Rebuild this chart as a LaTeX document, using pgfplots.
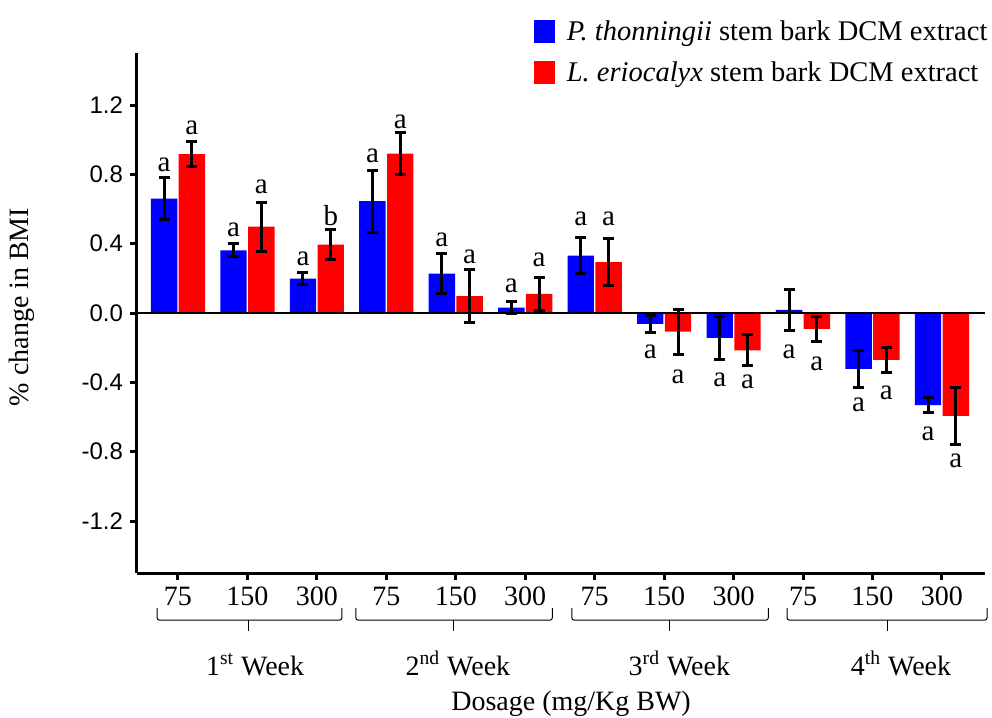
\documentclass[border=0pt]{standalone}
\usepackage{fontspec}
\setmainfont{Liberation Serif}
\newfontfamily\arialfont{Liberation Sans}
\usepackage{pgfplots}
\usepackage{pgfplotstable}
\pgfplotsset{compat=1.18}
\definecolor{myblue}{RGB}{0,0,255}
\definecolor{myred}{RGB}{255,0,0}

\pgfplotstableread{
x y e
0 0.660 0.120
1 0.362 0.037
2 0.198 0.034
3 0.645 0.180
4 0.227 0.115
5 0.031 0.036
6 0.331 0.105
7 -0.063 0.050
8 -0.144 0.123
9 0.018 0.120
10 -0.323 0.106
11 -0.531 0.043
}\bluedata

\pgfplotstableread{
x y e
0 0.917 0.073
1 0.498 0.142
2 0.395 0.089
3 0.920 0.123
4 0.098 0.152
5 0.110 0.096
6 0.293 0.137
7 -0.108 0.130
8 -0.215 0.090
9 -0.092 0.072
10 -0.271 0.070
11 -0.594 0.163
}\reddata

\begin{document}
\begin{tikzpicture}
\path[use as bounding box] (-68.5pt,-72.5pt) rectangle (427.5pt,286.5pt);
\begin{axis}[
  at={(0pt,0pt)}, anchor=south west,
  scale only axis, width=424pt, height=260pt,
  xmin=-0.59, xmax=11.62, ymin=-1.5, ymax=1.5,
  axis x line*=bottom, axis y line*=left,
  axis line style={line width=1.5pt, black},
  xtick={0,...,11},
  xticklabels={75,150,300,75,150,300,75,150,300,75,150,300},
  ytick={-1.2,-0.8,-0.4,0,0.4,0.8,1.2},
  yticklabels={-1.2,-0.8,-0.4,0.0,0.4,0.8,1.2},
  tick align=outside, major tick length=3.5pt,
  tick style={line width=1.5pt, black},
  xticklabel style={font=\fontsize{14}{16}\selectfont},
  yticklabel style={font=\arialfont\fontsize{12}{14}\selectfont},
  ybar, bar width=0.38,
  clip=false,
  legend style={at={(rel axis cs:0.468,1.07)}, anchor=north west, draw=none, fill=none,
    font=\fontsize{14.25}{16}\selectfont, row sep=5pt, column sep=4pt, inner sep=0pt, outer sep=0pt},
  legend cell align=left,
  legend image code/.code={\fill[#1] (0pt,-5.75pt) rectangle (10.5pt,5.75pt);},
]
\addplot[fill=myblue, draw=none, bar shift=-0.2,
  error bars/.cd, y dir=both, y explicit,
  error bar style={line width=1.5pt, draw=black},
  error mark options={draw=black, line width=1.5pt, mark size=2.75pt, rotate=90}]
  table[x=x, y=y, y error=e] {\bluedata};
\addlegendentry{\textit{P. thonningii} stem bark DCM extract}
\addplot[fill=myred, draw=none, bar shift=0.2,
  error bars/.cd, y dir=both, y explicit,
  error bar style={line width=1.5pt, draw=black},
  error mark options={draw=black, line width=1.5pt, mark size=2.75pt, rotate=90}]
  table[x=x, y=y, y error=e] {\reddata};
\addlegendentry{\textit{L. eriocalyx} stem bark DCM extract}

\draw[line width=1.2pt] (axis cs:-0.59,0) -- (axis cs:11.62,0);

% significance letters
\begin{scope}[every node/.style={font=\fontsize{14.5}{16}\selectfont, anchor=base, inner sep=0pt}]
\node at (axis cs:-0.2,0.814) {a};
\node at (axis cs:0.2,1.031) {a};
\node at (axis cs:0.8,0.439) {a};
\node at (axis cs:1.2,0.689) {a};
\node at (axis cs:1.8,0.275) {a};
\node at (axis cs:2.2,0.506) {b};
\node at (axis cs:2.8,0.871) {a};
\node at (axis cs:3.2,1.064) {a};
\node at (axis cs:3.8,0.381) {a};
\node at (axis cs:4.2,0.285) {a};
\node at (axis cs:4.8,0.121) {a};
\node at (axis cs:5.2,0.269) {a};
\node at (axis cs:5.8,0.506) {a};
\node at (axis cs:6.2,0.506) {a};
\node at (axis cs:6.8,-0.263) {a};
\node at (axis cs:7.2,-0.407) {a};
\node at (axis cs:7.8,-0.423) {a};
\node at (axis cs:8.2,-0.436) {a};
\node at (axis cs:8.8,-0.263) {a};
\node at (axis cs:9.2,-0.331) {a};
\node at (axis cs:9.8,-0.571) {a};
\node at (axis cs:10.2,-0.500) {a};
\node at (axis cs:10.8,-0.735) {a};
\node at (axis cs:11.2,-0.889) {a};
\end{scope}

% brackets
\begin{scope}[line width=0.5pt, rounded corners=1.2pt]
\draw (axis cs:-0.30,-1.703) -- (axis cs:-0.30,-1.772) -- (axis cs:2.36,-1.772) -- (axis cs:2.36,-1.703);
\draw (axis cs:1.02,-1.772) -- (axis cs:1.02,-1.836);
\draw (axis cs:2.56,-1.703) -- (axis cs:2.56,-1.772) -- (axis cs:5.39,-1.772) -- (axis cs:5.39,-1.703);
\draw (axis cs:3.97,-1.772) -- (axis cs:3.97,-1.836);
\draw (axis cs:5.67,-1.703) -- (axis cs:5.67,-1.772) -- (axis cs:8.50,-1.772) -- (axis cs:8.50,-1.703);
\draw (axis cs:7.08,-1.772) -- (axis cs:7.08,-1.836);
\draw (axis cs:8.77,-1.703) -- (axis cs:8.77,-1.772) -- (axis cs:11.65,-1.772) -- (axis cs:11.65,-1.703);
\draw (axis cs:10.21,-1.772) -- (axis cs:10.21,-1.836);
\end{scope}

\begin{scope}[every node/.style={font=\fontsize{14}{16}\selectfont, anchor=base, inner sep=0pt}]
\node at (axis cs:1.11,-2.091) {1\textsuperscript{st} Week};
\node at (axis cs:4.03,-2.091) {2\textsuperscript{nd} Week};
\node at (axis cs:7.22,-2.091) {3\textsuperscript{rd} Week};
\node at (axis cs:10.41,-2.091) {4\textsuperscript{th} Week};
\node at (axis cs:5.66,-2.295) {Dosage (mg/Kg BW)};
\end{scope}
\node[rotate=90, font=\fontsize{14}{16}\selectfont, inner sep=0pt] at (axis cs:-2.246,0.035) {\% change in BMI};
\end{axis}
\end{tikzpicture}
\end{document}
